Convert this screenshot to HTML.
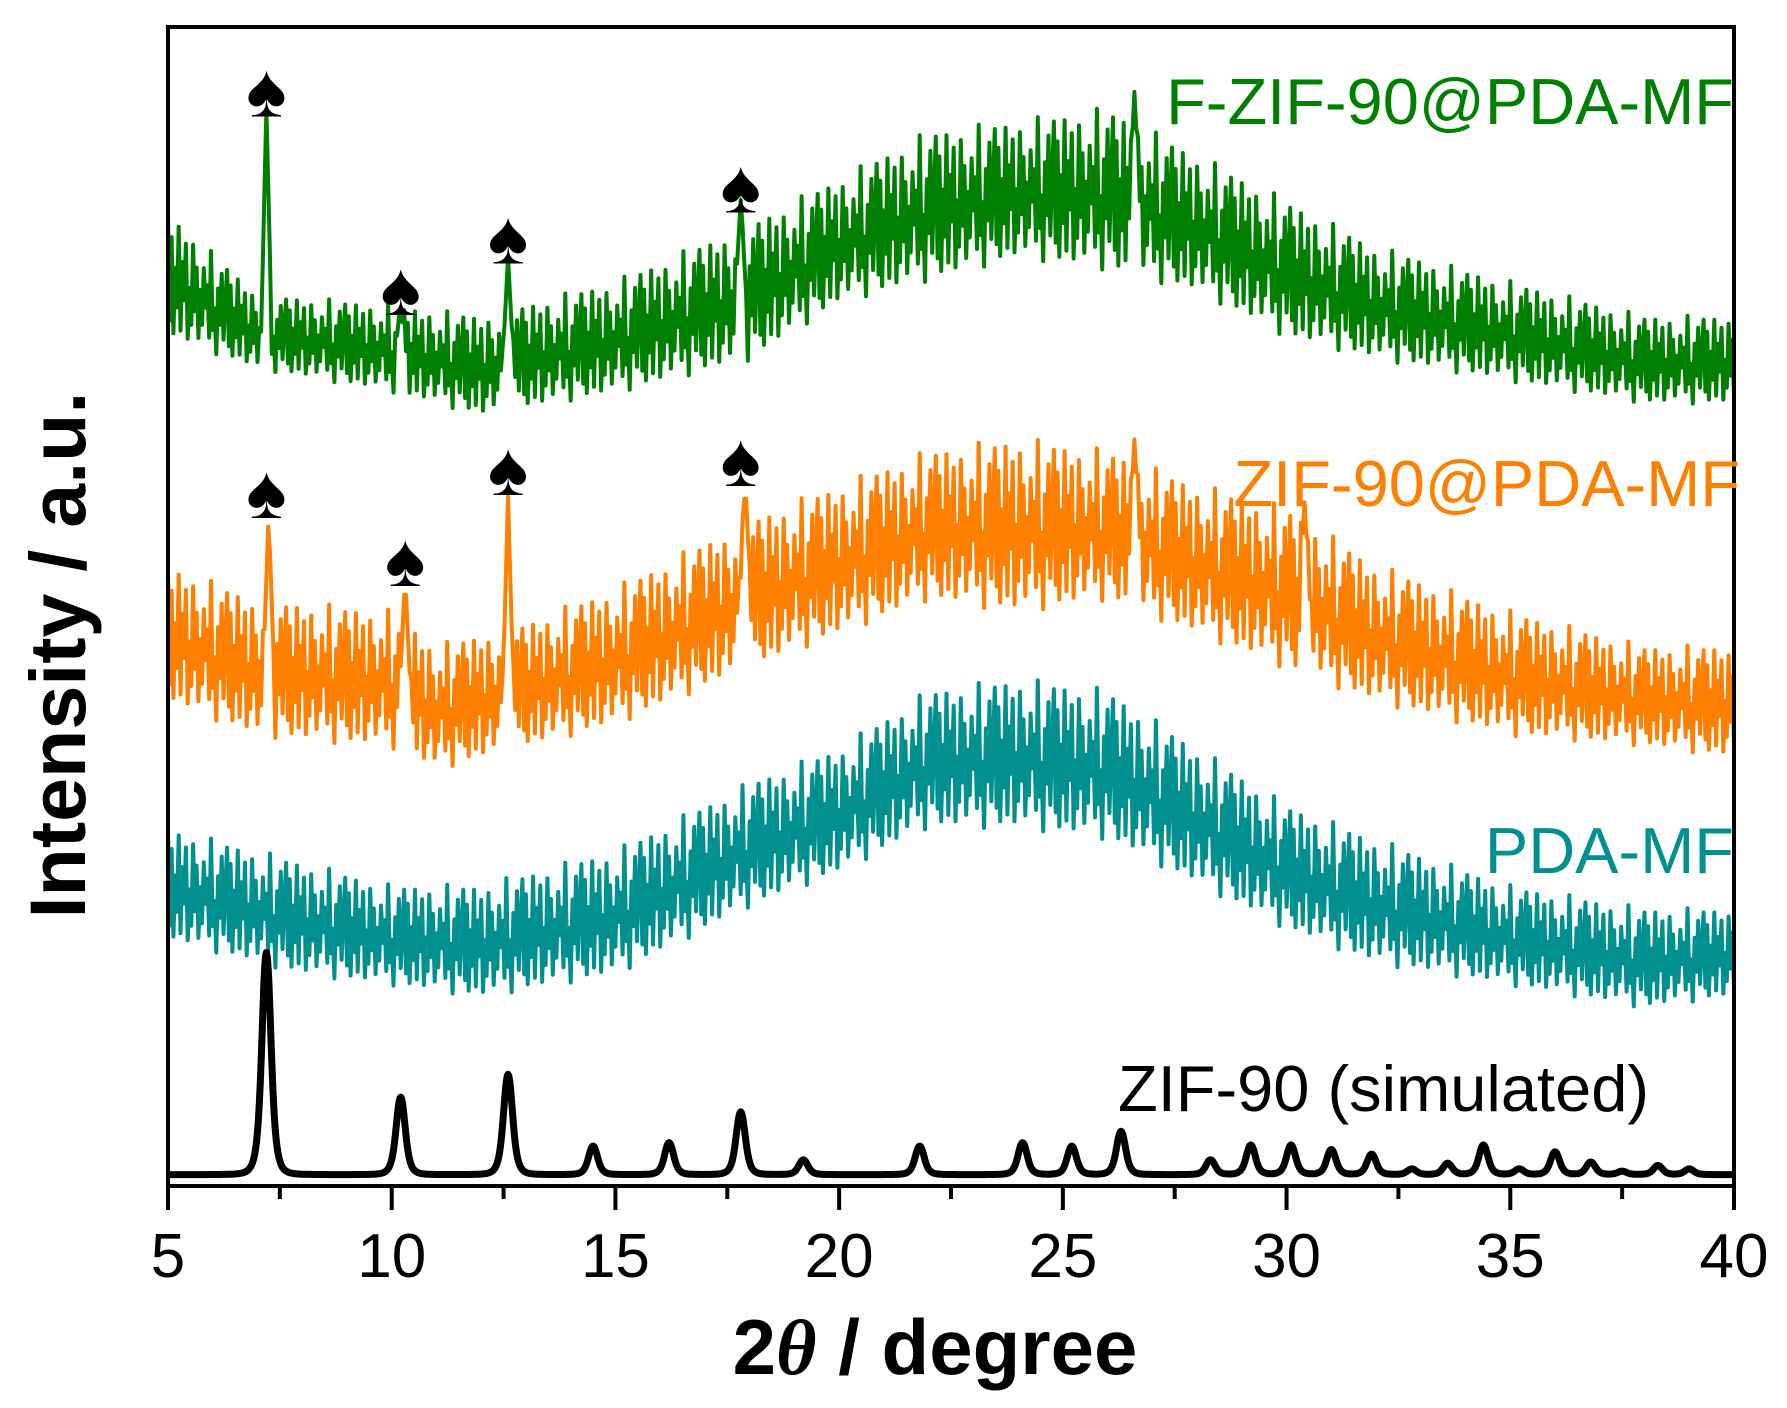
<!DOCTYPE html>
<html><head><meta charset="utf-8">
<style>
html,body{margin:0;padding:0;background:#fff;}
svg{display:block;}
text{font-family:"Liberation Sans","DejaVu Sans",sans-serif;}
</style></head>
<body>
<svg id="chart" width="1787" height="1408" viewBox="0 0 1787 1408" xmlns="http://www.w3.org/2000/svg">
<g id="plot"></g>
<rect x="168" y="27" width="1566" height="1159" fill="none" stroke="#000" stroke-width="4"/>
<g id="axis"></g>
<text x="935" y="1374" text-anchor="middle" font-size="78" font-weight="bold">2<tspan font-style="italic" font-family="Liberation Serif, serif">θ</tspan> / degree</text>
<text transform="translate(85,655) rotate(-90)" text-anchor="middle" font-size="79" font-weight="bold">Intensity / a.u.</text>
<text x="1734" y="124" text-anchor="end" font-size="65" fill="#008000">F-ZIF-90@PDA-MF</text>
<text x="1740" y="506" text-anchor="end" font-size="65" fill="#ff7f00">ZIF-90@PDA-MF</text>
<text x="1734" y="873" text-anchor="end" font-size="65" fill="#009090">PDA-MF</text>
<text x="1649" y="1111" text-anchor="end" font-size="65" fill="#000">ZIF-90 (simulated)</text>
</svg>
<script>
// intensity units: 0..1016 maps to axis bottom..top
const ticks=[5,10,15,20,25,30,35,40];
const greenX=[5,7,10,12,15,18,20,22,24,26,28,30,32,35,38,40];
const greenUpper=[850,780,770,760,790,840,880,920,930,940,900,860,820,790,760,760];
const greenLower=[750,720,700,680,700,730,780,800,820,810,790,750,730,710,690,690];
const greenPeakPos=[7.2,10.2,12.6,17.8,26.6];
const greenPeakTop=[945,770,815,865,960];
const orangeX=[5,7,10,11,13,15,18,20,22,24,26,28,30,32,35,38,40];
const orangeUpper=[540,510,500,470,490,520,580,610,640,650,640,610,590,540,500,470,470];
const orangeLower=[430,400,390,370,390,410,460,490,520,510,520,490,460,430,400,390,380];
const orangePeakPos=[7.25,10.3,12.6,17.9,26.6,30.4];
const orangePeakTop=[590,535,605,620,655,600];
const tealX=[5,8,10,12,15,18,20,22,24,26,28,30,32,35,38,40];
const tealUpper=[310,280,260,260,290,350,380,430,440,430,380,330,300,260,240,240];
const tealLower=[220,190,180,170,190,250,280,320,320,310,270,230,200,180,160,170];
const simBase=10;
const simPos=[7.2,10.2,12.6,14.5,16.2,17.8,19.2,21.8,24.1,25.2,26.3,28.3,29.2,30.1,31.0,31.9,32.8,33.6,34.4,35.2,36.0,36.8,37.5,38.3,39.0];
const simHeight=[195,68,88,25,28,55,13,25,28,25,38,13,26,26,22,18,5,10,26,5,20,11,3,8,5];
const spadeGreenX=[7.2,10.2,12.6,17.8];
const spadeGreenY=[962,788,833,878];
const spadeOrangeX=[7.2,10.3,12.6,17.8];
const spadeOrangeY=[610,550,630,638];

const NS='http://www.w3.org/2000/svg';
const X0=168,X1=1734,Y0=1186,YS=1.1397;
const xs=v=>X0+(v-5)/35*(X1-X0);
const ys=h=>Y0-h*YS;
const plot=document.getElementById('plot');
const axis=document.getElementById('axis');
function lerp(xa,ya,x){for(let i=0;i<xa.length-1;i++){if(x<=xa[i+1]){const t=(x-xa[i])/(xa[i+1]-xa[i]);return ya[i]+t*(ya[i+1]-ya[i]);}}return ya[ya.length-1];}
const pat=[1,0.1,0.85,0,0.6,0.25,1,0.05,0.7,0.35,0.9,0,0.5,0.15,0.95,0.3,0.75,0.05,0.55,0.2,0.8,0.4,0.65,0.1,1.05,0.2,0.45,-0.05,0.7,0.3,0.9,0.15,0.6];
function noisy(xa,up,lo,pp,pt,color,name){
  let d='';let k=0;
  for(let x=5;x<=40.0001;x+=0.04){
    const u=lerp(xa,up,x),l=lerp(xa,lo,x);
    let v=l+(u-l)*pat[k%pat.length];
    for(let j=0;j<pp.length;j++){const dx=Math.abs(x-pp[j]);if(dx<0.12){v=Math.max(v,pt[j]-(pt[j]-(u+l)/2)*dx/0.12);}}
    d+=(k?'L':'M')+xs(x).toFixed(1)+' '+ys(v).toFixed(1);k++;
  }
  const p=document.createElementNS(NS,'path');
  p.setAttribute('d',d);p.setAttribute('fill','none');p.setAttribute('stroke',color);p.setAttribute('stroke-width','4');p.setAttribute('stroke-linejoin','round');
  
  
  plot.appendChild(p);
}
noisy(tealX,tealUpper,tealLower,[],[],'#009090','series-pda-mf');
noisy(orangeX,orangeUpper,orangeLower,orangePeakPos,orangePeakTop,'#ff7f00','series-zif-90-pda-mf');
noisy(greenX,greenUpper,greenLower,greenPeakPos,greenPeakTop,'#008000','series-f-zif-90-pda-mf');
// simulated
let d='';let k=0;
for(let x=5;x<=40.0001;x+=0.02){
  let v=simBase;
  for(let j=0;j<simPos.length;j++){const w=0.13;const dx=(x-simPos[j])/w;v+=simHeight[j]/(1+dx*dx*dx*dx*0.4+dx*dx*0.8);}
  d+=(k?'L':'M')+xs(x).toFixed(1)+' '+ys(v).toFixed(1);k++;
}
const sp=document.createElementNS(NS,'path');
sp.setAttribute('d',d);sp.setAttribute('fill','none');sp.setAttribute('stroke','#000');sp.setAttribute('stroke-width','7');sp.setAttribute('stroke-linejoin','round');


plot.appendChild(sp);
function spades(px,py,name){
  for(let i=0;i<px.length;i++){
    const t=document.createElementNS(NS,'text');
    t.setAttribute('x',xs(px[i]));t.setAttribute('y',ys(py[i])+27);t.setAttribute('text-anchor','middle');t.setAttribute('font-size','76');t.setAttribute('font-family','DejaVu Sans, sans-serif');
    t.textContent='♠';
    
    
    plot.appendChild(t);
  }
}
spades(spadeGreenX,spadeGreenY,'peak-marker-green');
spades(spadeOrangeX,spadeOrangeY,'peak-marker-orange');
// ticks
for(let v=5;v<=40;v+=2.5){
  const major=ticks.includes(v);
  const l=document.createElementNS(NS,'line');
  l.setAttribute('x1',xs(v));l.setAttribute('x2',xs(v));l.setAttribute('y1',Y0);l.setAttribute('y2',Y0+(major?24:13));
  l.setAttribute('stroke','#000');l.setAttribute('stroke-width','4');
  
  
  axis.appendChild(l);
}
ticks.forEach(v=>{
  const t=document.createElementNS(NS,'text');
  t.setAttribute('x',xs(v));t.setAttribute('y',1277);t.setAttribute('text-anchor','middle');t.setAttribute('font-size','62');
  t.textContent=v;
  
  
  axis.appendChild(t);
});
</script>
</body></html>
